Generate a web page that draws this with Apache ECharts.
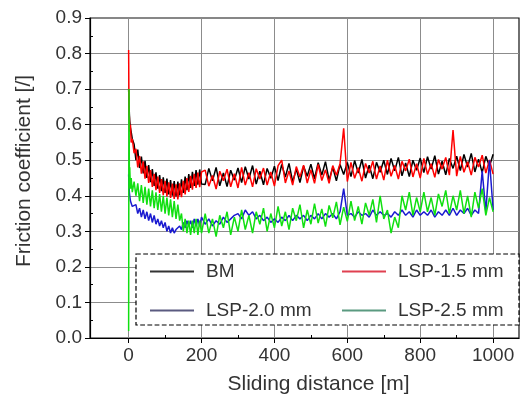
<!DOCTYPE html>
<html>
<head>
<meta charset="utf-8">
<script src="https://cdn.jsdelivr.net/npm/echarts@6/dist/echarts.min.js"></script>
<style>html,body{margin:0;padding:0;background:#fff}#c{width:520px;height:401px}</style>
</head>
<body>
<div id="c"></div>
<script>
// Sliding distance [m]
const distance = [0,1,2,3,5,7,10,15,
20,25,30,35,40,45,50,55,60,65,70,75,80,85,90,95,100,105,110,115,120,125,130,135,140,145,150,155,160,165,170,175,180,185,190,195,200,
210,220,230,240,250,260,270,280,290,300,310,320,330,340,350,360,370,380,390,400,
410,420,430,440,450,460,470,480,490,500,510,520,530,540,550,560,570,580,590,600,
610,620,630,640,650,660,670,680,690,700,710,720,730,740,750,760,770,780,790,800,
810,820,830,840,850,860,870,880,890,900,910,920,930,940,950,960,970,980,990,1000];

const bm = [0.70,0.66,0.63,0.61,0.59,0.58,0.56,0.545,
0.50,0.53,0.478,0.51,0.463,0.498,0.45,0.486,0.438,0.475,0.428,0.466,0.42,0.458,0.413,0.452,0.408,0.448,0.404,0.444,0.40,0.441,0.398,0.44,0.401,0.446,0.408,0.454,0.416,0.461,0.422,0.467,0.428,0.472,0.431,0.474,0.433,
0.432,0.477,0.442,0.48,0.428,0.464,0.426,0.472,0.444,0.478,
0.437,0.482,0.447,0.485,0.433,0.469,0.431,0.477,0.449,0.483,
0.443,0.488,0.453,0.491,0.439,0.475,0.437,0.483,0.455,0.489,
0.448,0.493,0.458,0.496,0.444,0.48,0.442,0.488,0.46,0.494,
0.454,0.499,0.464,0.502,0.45,0.486,0.448,0.494,0.466,0.50,
0.46,0.505,0.47,0.508,0.456,0.492,0.454,0.50,0.472,0.506,
0.465,0.51,0.475,0.513,0.461,0.497,0.459,0.505,0.477,0.511,
0.471,0.516,0.481,0.519,0.467,0.503,0.465,0.511,0.483,0.517];

const lsp15 = [0.81,0.64,0.62,0.58,0.60,0.55,0.56,0.52,
0.532,0.48,0.512,0.462,0.497,0.448,0.484,0.436,0.472,0.425,0.462,0.416,0.454,0.408,0.447,0.402,0.442,0.398,0.438,0.394,0.434,0.391,0.432,0.39,0.435,0.396,0.442,0.404,0.45,0.411,0.456,0.417,0.462,0.422,0.465,0.424,0.467,
0.472,0.427,0.457,0.419,0.469,0.442,0.475,0.425,0.462,0.422,
0.48,0.43,0.465,0.425,0.476,0.447,0.478,0.43,0.467,0.427,
0.485,0.50,0.436,0.47,0.43,0.482,0.453,0.486,0.436,0.473,
0.435,0.488,0.443,0.473,0.435,0.485,0.458,0.49,0.59,0.44,
0.494,0.449,0.479,0.441,0.491,0.464,0.497,0.447,0.484,0.444,
0.50,0.455,0.485,0.447,0.497,0.47,0.503,0.453,0.49,0.45,
0.505,0.46,0.49,0.452,0.502,0.475,0.508,0.458,0.585,0.455,
0.511,0.466,0.496,0.458,0.508,0.481,0.514,0.464,0.501,0.461];

const lsp20 = [0.46,0.43,0.41,0.40,0.385,0.38,0.37,0.365,
0.375,0.35,0.365,0.34,0.36,0.335,0.355,0.33,0.35,0.325,0.345,0.32,0.335,0.315,0.33,0.31,0.325,0.30,0.315,0.295,0.31,0.295,0.305,0.30,0.315,0.305,0.325,0.31,0.33,0.315,0.33,0.31,0.335,0.315,0.335,0.315,0.34,
0.32,0.335,0.315,0.33,0.32,0.34,0.325,0.335,0.345,0.35,
0.335,0.36,0.345,0.355,0.335,0.345,0.33,0.34,0.325,0.335,
0.325,0.34,0.33,0.345,0.33,0.345,0.335,0.345,0.33,0.345,
0.335,0.35,0.335,0.35,0.34,0.35,0.335,0.355,0.42,0.345,
0.35,0.34,0.355,0.345,0.35,0.34,0.36,0.345,0.355,0.345,
0.35,0.34,0.355,0.345,0.36,0.345,0.355,0.34,0.36,0.345,
0.355,0.345,0.36,0.34,0.355,0.345,0.36,0.345,0.365,0.345,
0.36,0.35,0.365,0.345,0.36,0.35,0.47,0.355,0.50,0.36];

const lsp25 = [0.02,0.70,0.46,0.48,0.42,0.45,0.41,0.44,
0.40,0.435,0.385,0.43,0.38,0.425,0.375,0.42,0.37,0.415,0.365,0.41,0.36,0.405,0.355,0.40,0.35,0.395,0.345,0.39,0.34,0.385,0.335,0.375,0.33,0.35,0.30,0.335,0.295,0.33,0.29,0.33,0.295,0.335,0.29,0.33,0.295,
0.35,0.295,0.335,0.285,0.345,0.31,0.355,0.29,0.34,0.30,
0.36,0.305,0.345,0.295,0.355,0.32,0.365,0.30,0.35,0.31,
0.37,0.315,0.355,0.305,0.365,0.33,0.375,0.31,0.36,0.32,
0.378,0.323,0.363,0.313,0.373,0.338,0.383,0.318,0.368,0.328,
0.385,0.33,0.37,0.32,0.38,0.345,0.39,0.325,0.40,0.335,
0.36,0.295,0.34,0.31,0.40,0.36,0.41,0.345,0.395,0.355,
0.41,0.355,0.395,0.345,0.405,0.37,0.415,0.35,0.40,0.36,
0.415,0.35,0.40,0.34,0.41,0.365,0.42,0.345,0.395,0.355];

const xTicks = [0,200,400,600,800,1000];
const xMinorTicks = [100,300,500,700,900];
const yMinorTicks = [0.05,0.15,0.25,0.35,0.45,0.55,0.65,0.75,0.85];

function pairs(vals){ return distance.map((d,i)=>[d, vals[i]]); }

const font = 'Liberation Sans, Arial, sans-serif';
const chart = echarts.init(document.getElementById('c'), null, {renderer:'canvas'});
const lineSeries = (name, vals, color, w) => ({
  name, type:'line', data: pairs(vals), symbol:'none', showSymbol:false,
  lineStyle:{color, width:w}, itemStyle:{color}, animation:false, z:2
});
chart.setOption({
  animation:false,
  backgroundColor:'#fff',
  grid:{left:90, right:1, top:18, bottom:63, show:true, borderColor:'#111', borderWidth:1.2, backgroundColor:'transparent'},
  xAxis:[{
    type:'value', min:-106, max:1071, position:'bottom',
    axisLine:{show:true, onZero:false, lineStyle:{color:'#000', width:1.2}},
    axisTick:{show:true, inside:false, length:5, customValues:xTicks, lineStyle:{color:'#000'}},
    axisLabel:{show:true, customValues:xTicks, margin:8, fontSize:19, color:'#333', fontFamily:font, formatter:v=>String(v)},
    splitLine:{show:true, lineStyle:{color:'#8c8c8c', width:1}},
    name:'Sliding distance [m]', nameLocation:'middle', nameGap:36,
    nameTextStyle:{fontSize:21, color:'#333', fontFamily:font, padding:[0,0,0,28]}
  },{
    type:'value', min:-106, max:1071, position:'bottom',
    axisLine:{show:false, onZero:false}, axisLabel:{show:false}, splitLine:{show:false},
    axisTick:{show:true, inside:true, length:3, customValues:xMinorTicks, lineStyle:{color:'#000'}}
  }],
  yAxis:[{
    type:'value', min:0, max:0.9, interval:0.1, position:'left',
    axisLine:{show:true, onZero:false, lineStyle:{color:'#000', width:1.2}},
    axisTick:{show:true, inside:false, length:5, lineStyle:{color:'#000'}},
    axisLabel:{margin:8, fontSize:19, color:'#333', fontFamily:font, formatter:v=>v.toFixed(1)},
    splitLine:{show:true, showMaxLine:false, lineStyle:{color:'#8c8c8c', width:1}},
    name:'Friction coefficient [/]', nameLocation:'middle', nameGap:55,
    nameTextStyle:{fontSize:21, color:'#333', fontFamily:font, padding:[0,0,0,14]}
  },{
    type:'value', min:0, max:0.9, position:'left',
    axisLine:{show:false, onZero:false}, axisLabel:{show:false}, splitLine:{show:false},
    axisTick:{show:true, inside:true, length:3, customValues:yMinorTicks, lineStyle:{color:'#000'}}
  }],
  legend:{
    show:true, left:136, top:254, width:370, orient:'horizontal',
    padding:[8,5,5,14], itemGap:20, itemWidth:44, itemHeight:2, icon:'rect',
    backgroundColor:'#fff', borderColor:'#000', borderWidth:1.2, borderType:'dashed',
    textStyle:{fontSize:19, color:'#333', fontFamily:font, width:116, lineHeight:17, padding:[0,0,0,7]},
    data:[
      {name:'BM', itemStyle:{color:'#333'}},
      {name:'LSP-1.5 mm', itemStyle:{color:'#e04050'}},
      {name:'LSP-2.0 mm', itemStyle:{color:'#5a5a80'}},
      {name:'LSP-2.5 mm', itemStyle:{color:'#5a9a80'}}
    ]
  },
  series:[
    lineSeries('BM', bm, '#000000', 1.5),
    lineSeries('LSP-1.5 mm', lsp15, '#ff0000', 1.5),
    lineSeries('LSP-2.0 mm', lsp20, '#1a1ad0', 1.5),
    lineSeries('LSP-2.5 mm', lsp25, '#10e010', 1.5)
  ]
});
</script>
</body>
</html>
